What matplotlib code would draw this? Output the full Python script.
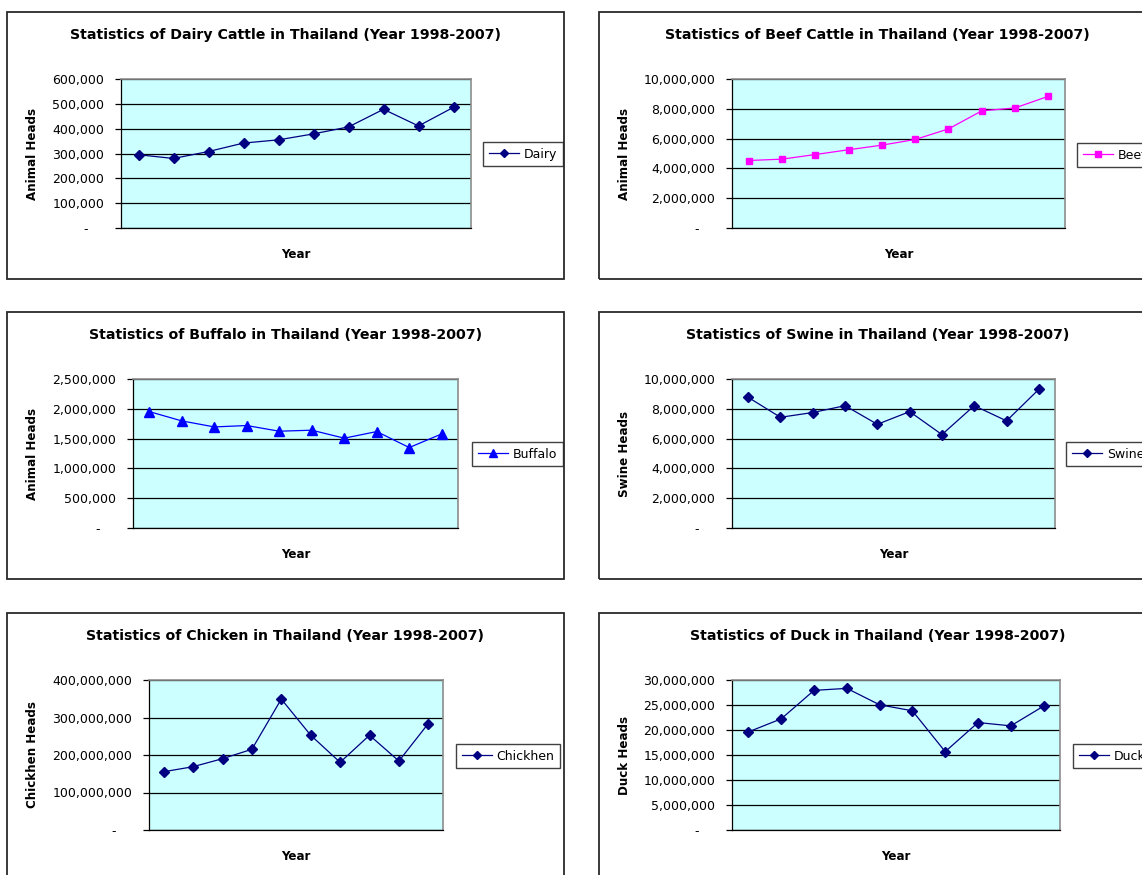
import matplotlib
matplotlib.use("Agg")
import matplotlib.pyplot as plt
from matplotlib.patches import Rectangle

# head counts per year, 1998-2007
years = list(range(1998, 2008))
dairy_heads = [295000, 280000, 308000, 342000, 355000, 379000, 407000, 478000, 411000, 486000]
beef_heads = [4530000, 4620000, 4930000, 5250000, 5560000, 5940000, 6650000, 7860000, 8060000, 8840000]
buffalo_heads = [1953000, 1797000, 1696000, 1719000, 1624000, 1641000, 1507000, 1618000, 1350000, 1579000]
swine_heads = [8770000, 7430000, 7750000, 8210000, 6960000, 7810000, 6270000, 8210000, 7190000, 9310000]
chicken_heads = [155400000, 168800000, 190200000, 215200000, 349100000,
                 252700000, 180400000, 252700000, 183900000, 283900000]
duck_heads = [19620000, 22230000, 27920000, 28330000, 25040000,
              23840000, 15670000, 21490000, 20830000, 24780000]

W, H = 1142, 875
BG = "#CCFFFF"
NAVY = "#000080"

# name, series label, ylabel, values, y max, y step, colour, marker,
# box (l, t, r, b), plot area (l, t, r, b), legend top-left
panels = [
    ("Dairy Cattle", "Dairy", "Animal Heads", dairy_heads, 600000, 100000, NAVY, "D",
     (7, 12, 564, 279), (121, 79, 471, 228), (483, 142)),
    ("Beef Cattle", "Beef", "Animal Heads", beef_heads, 10000000, 2000000, "#FF00FF", "s",
     (599, 12, 1156, 279), (732, 79, 1065, 228), (1077, 143)),
    ("Buffalo", "Buffalo", "Animal Heads", buffalo_heads, 2500000, 500000, "#0000FF", "^",
     (7, 312, 564, 579), (133, 379, 458, 528), (472, 442)),
    ("Swine", "Swine", "Swine Heads", swine_heads, 10000000, 2000000, NAVY, "D",
     (599, 312, 1156, 579), (732, 379, 1055, 528), (1066, 442)),
    ("Chicken", "Chickhen", "Chickhen Heads", chicken_heads, 400000000, 100000000, NAVY, "D",
     (7, 613, 564, 880), (149, 680, 443, 830), (456, 744)),
    ("Duck", "Duck", "Duck Heads", duck_heads, 30000000, 5000000, NAVY, "D",
     (599, 613, 1156, 880), (732, 680, 1060, 830), (1073, 744)),
]

plt.rcParams["font.family"] = "DejaVu Sans"

fig = plt.figure(figsize=(W / 100, H / 100), dpi=100)
fig.patch.set_facecolor("white")


def px_rect(left, top, right, bottom):
    return [left / W, 1 - bottom / H, (right - left) / W, (bottom - top) / H]


def fmt_heads(v):
    return "-    " if v == 0 else f"{v:,}"


for (name, label, ylabel, values, ymax, ystep, color, marker,
     box, area, leg) in panels:
    bl, bt, br, bb = box
    fig.add_artist(Rectangle((bl / W, 1 - bb / H), (br - bl) / W, (bb - bt) / H,
                             transform=fig.transFigure, fill=False,
                             edgecolor="#2a2a2a", linewidth=1.3))
    fig.text((bl + br) / 2 / W, 1 - (bt + 23) / H,
             f"Statistics of {name} in Thailand (Year 1998-2007)",
             ha="center", va="center", fontsize=10.2, fontweight="bold")

    ax = fig.add_axes(px_rect(*area))
    ax.set_facecolor(BG)
    x = range(len(years))
    ms = 6.5 if marker == "^" else 5
    ax.plot(x, values, color=color, linewidth=0.9, marker=marker,
            markersize=ms, markerfacecolor=color, markeredgecolor=color,
            label=label, zorder=3)

    ax.set_xlim(-0.5, len(years) - 0.5)
    ax.set_xticks([])
    ticks = list(range(0, ymax + 1, ystep))
    ax.set_ylim(0, ymax)
    ax.set_yticks(ticks)
    ax.set_yticklabels([fmt_heads(t) for t in ticks])
    ax.tick_params(axis="y", direction="out", length=4, width=0.9,
                   pad=8, labelsize=9, colors="black")
    ax.yaxis.grid(True, color="black", linewidth=0.9)
    ax.set_axisbelow(True)

    for side in ("top", "right"):
        ax.spines[side].set_color("#8c8c8c")
        ax.spines[side].set_linewidth(1.2)
    for side in ("left", "bottom"):
        ax.spines[side].set_color("black")
        ax.spines[side].set_linewidth(0.9)

    al, at, ar, ab = area
    ax.set_xlabel("Year", fontsize=8.6, fontweight="bold", va="center")
    ax.xaxis.set_label_coords(0.5, -(254 - 228) / (ab - at))
    ax.set_ylabel(ylabel, fontsize=8.6, fontweight="bold", va="center")
    ax.yaxis.set_label_coords((bl + 26 - al) / (ar - al), 0.5)

    lg = ax.legend(loc="upper left", bbox_to_anchor=(leg[0] / W, 1 - leg[1] / H),
                   bbox_transform=fig.transFigure, borderaxespad=0,
                   fancybox=False, framealpha=1, edgecolor="#404040",
                   fontsize=9, handlelength=2.4, handletextpad=0.4,
                   borderpad=0.45, markerscale=0.9)
    lg.get_frame().set_linewidth(1.0)

fig.savefig("out.png", dpi=100, facecolor="white")
